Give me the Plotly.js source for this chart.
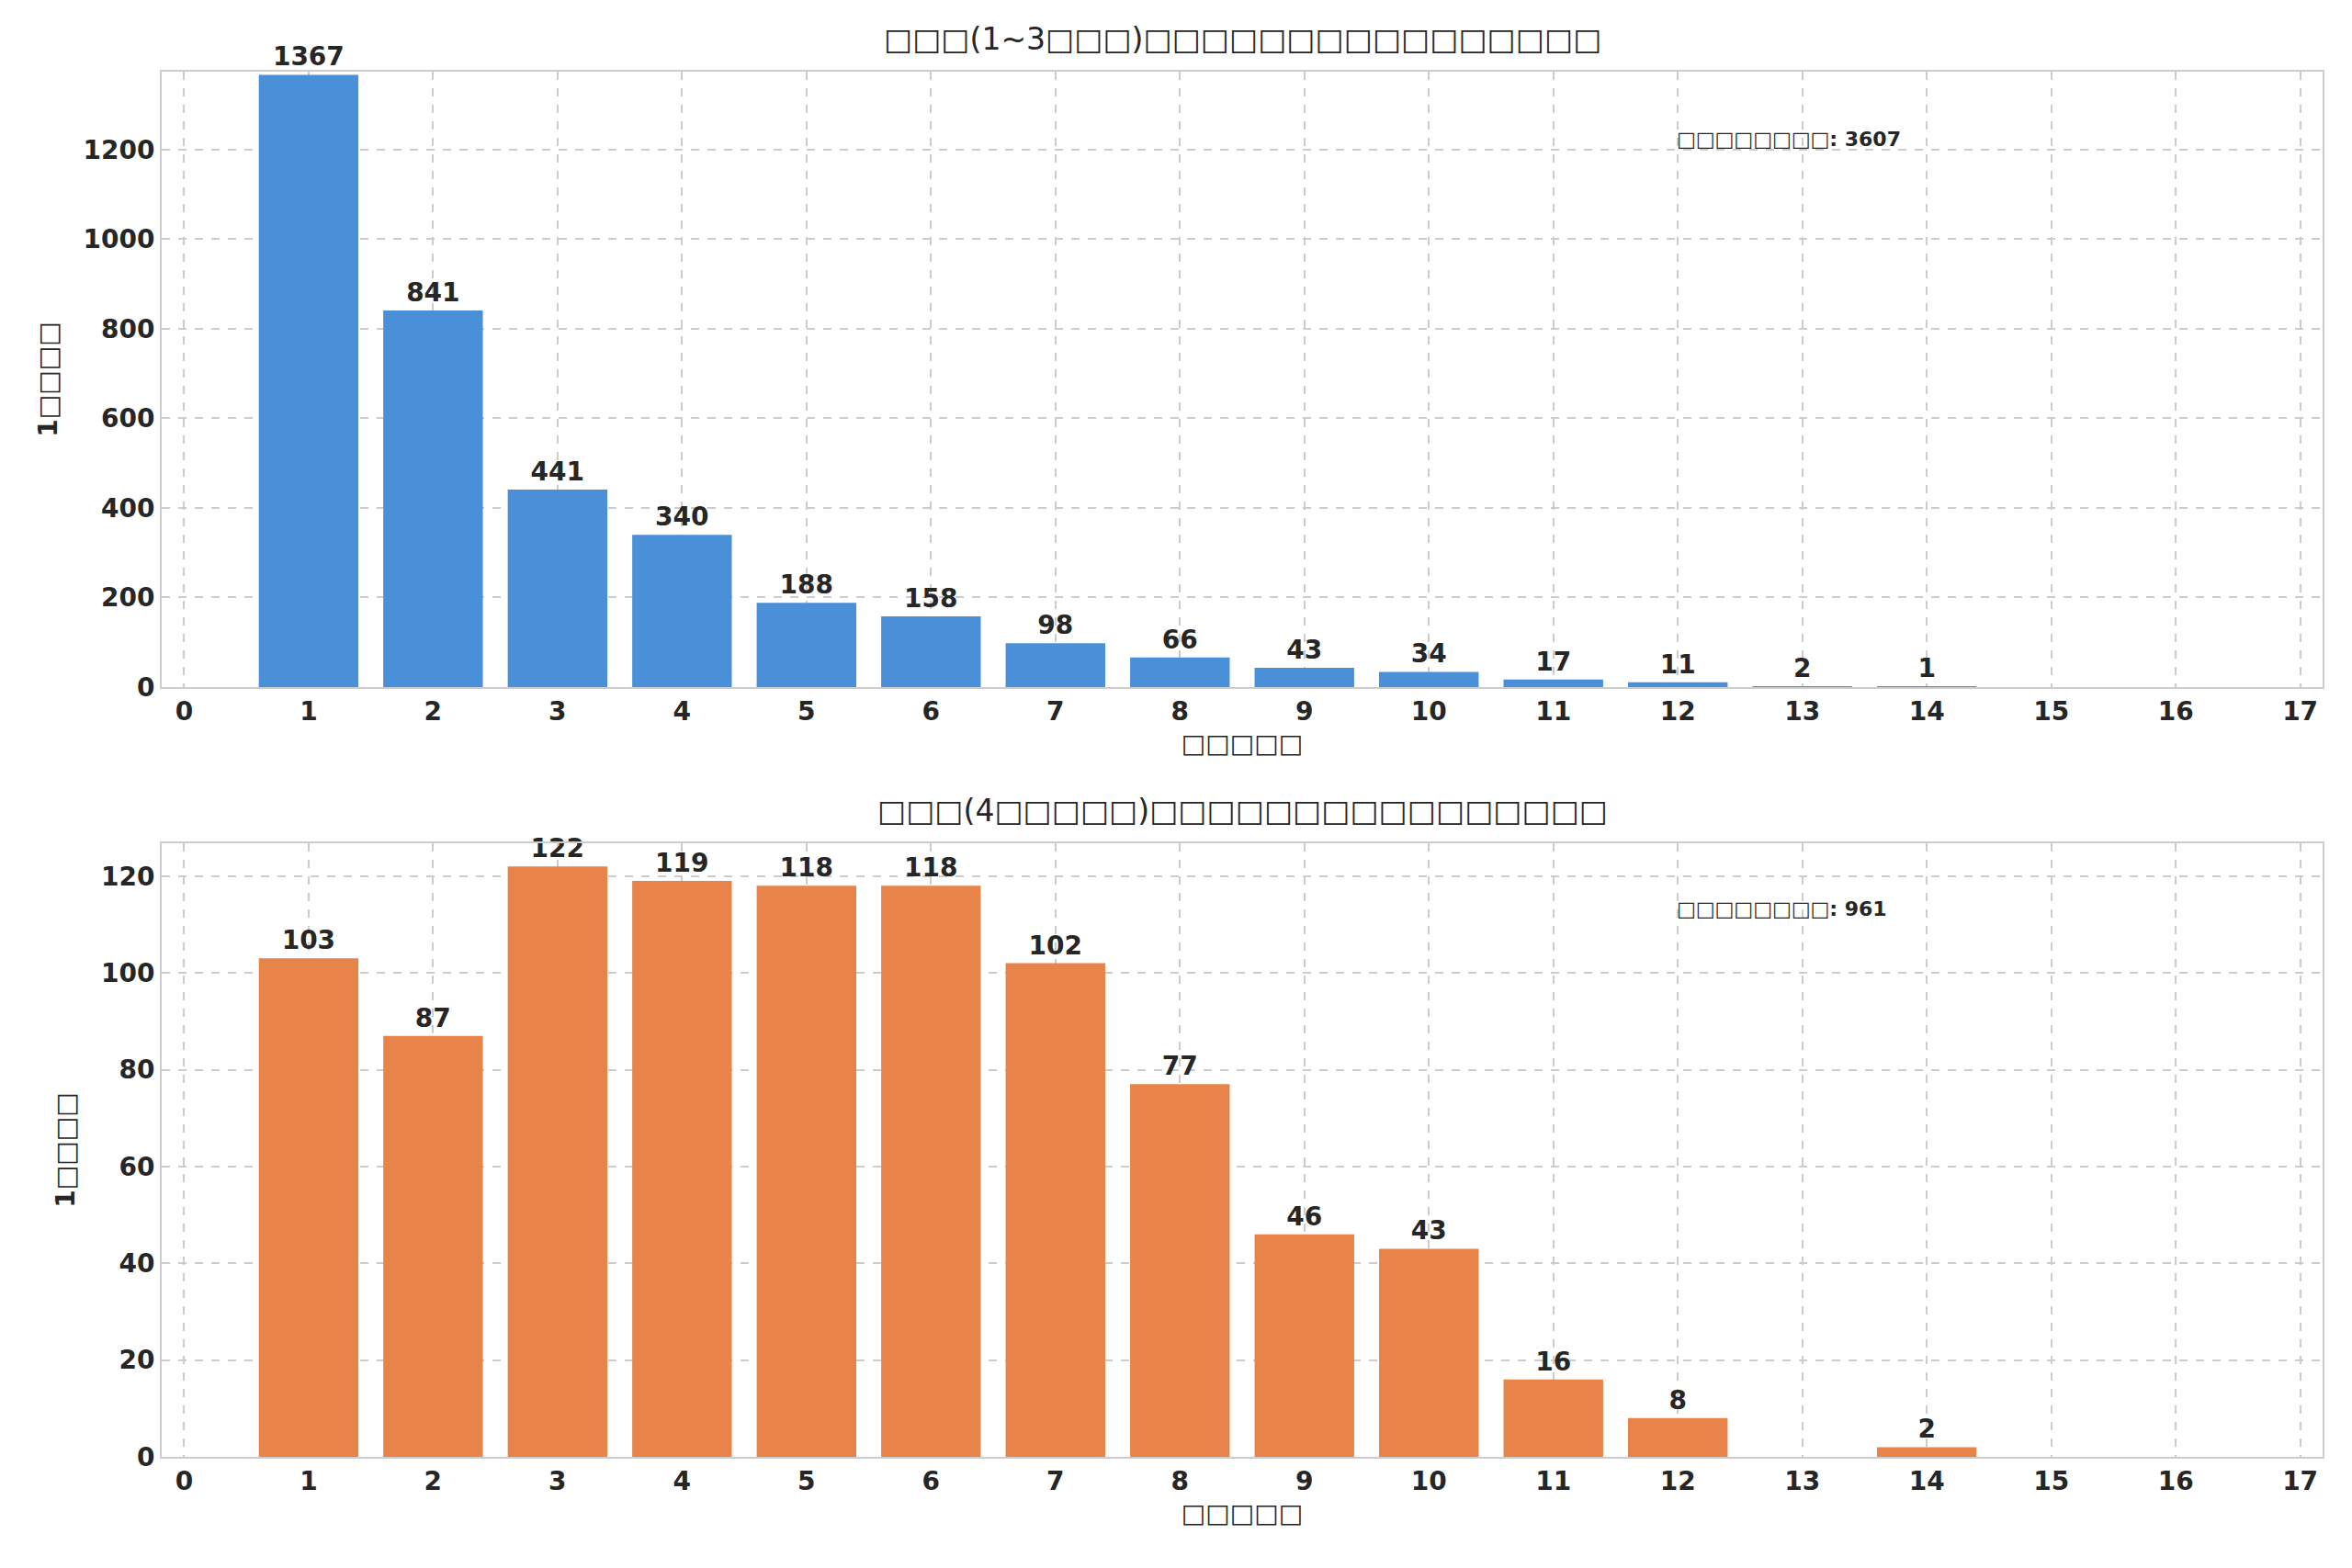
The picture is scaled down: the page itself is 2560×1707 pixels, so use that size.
<!DOCTYPE html>
<html>
<head>
<meta charset="utf-8">
<script src="https://cdn.plot.ly/plotly-3.0.1.min.js"></script>
<style>body{margin:0;background:#fff}</style>
</head>
<body>
<div id="chart" style="width:2560px;height:1707px"></div>
<script>
// top panel
var topX = [1,2,3,4,5,6,7,8,9,10,11,12,13,14];
var topY = [1367,841,441,340,188,158,98,66,43,34,17,11,2,1];
var topTotal = 3607;
// bottom panel
var botX = [1,2,3,4,5,6,7,8,9,10,11,12,14];
var botY = [103,87,122,119,118,118,102,77,46,43,16,8,2];
var botTotal = 961;
var ticks = [0,1,2,3,4,5,6,7,8,9,10,11,12,13,14,15,16,17];

var F = "DejaVu Sans";
var dark = "#262626";

function bars(x, y, color, xa, ya) {
    return {
        x: x, y: y, type: "bar", width: 0.8, xaxis: xa, yaxis: ya,
        marker: {color: color},
        text: y.map(String), textposition: "outside", cliponaxis: false,
        textfont: {family: F, size: 28, color: dark, weight: "bold"},
        hoverinfo: "x+y"
    };
}

function xax(anchor) {
    return {
        anchor: anchor, range: [-0.18, 17.18], tickvals: ticks,
        showgrid: true, gridcolor: "#cccccc", griddash: "dash", gridwidth: 2,
        zeroline: false, showline: true, mirror: true, linecolor: "#cccccc", linewidth: 2,
        tickfont: {family: F, size: 28, color: dark, weight: "bold"},
        title: {text: "□□□□□", font: {family: F, size: 28, color: dark, weight: "bold"}, standoff: 10}
    };
}
function yax(anchor, domain, range, dtick) {
    return {
        anchor: anchor, domain: domain, range: range, dtick: dtick,
        showgrid: true, gridcolor: "#cccccc", griddash: "dash", gridwidth: 2,
        zeroline: false, showline: true, mirror: true, linecolor: "#cccccc", linewidth: 2,
        tickfont: {family: F, size: 28, color: dark, weight: "bold"},
        title: {text: "1□□□□", font: {family: F, size: 28, color: dark, weight: "bold"}, standoff: 20}
    };
}

var data = [bars(topX, topY, "#4a90d9", "x", "y"), bars(botX, botY, "#e8844a", "x2", "y2")];

var layout = {
    width: 2560, height: 1707,
    margin: {l: 176, r: 32, t: 78, b: 121},
    paper_bgcolor: "#fff", plot_bgcolor: "#fff",
    showlegend: false, bargap: 0.2,
    xaxis: xax("y"), yaxis: yax("x", [0.5557, 1], [0, 1374], 200),
    xaxis2: xax("y2"), yaxis2: yax("x2", [0, 0.443], [0, 126.8], 20),
    annotations: [
        {text: "□□□(1~3□□□)□□□□□□□□□□□□□□□□", xref: "paper", yref: "paper", x: 0.5, y: 1, yshift: 14,
         yanchor: "bottom", showarrow: false, font: {family: F, size: 33, color: dark}},
        {text: "□□□(4□□□□□)□□□□□□□□□□□□□□□□", xref: "paper", yref: "paper", x: 0.5, y: 0.443, yshift: 14,
         yanchor: "bottom", showarrow: false, font: {family: F, size: 33, color: dark}},
        {text: "□□□□□□□□: " + topTotal, xref: "x", yref: "y domain", x: 11.98, y: 0.912,
         xanchor: "left", showarrow: false, font: {family: F, size: 22, color: dark, weight: "bold"}},
        {text: "□□□□□□□□: " + botTotal, xref: "x2", yref: "y2 domain", x: 11.98, y: 0.914,
         xanchor: "left", showarrow: false, font: {family: F, size: 22, color: dark, weight: "bold"}}
    ]
};

Plotly.newPlot("chart", data, layout, {displayModeBar: false});
</script>
</body>
</html>
